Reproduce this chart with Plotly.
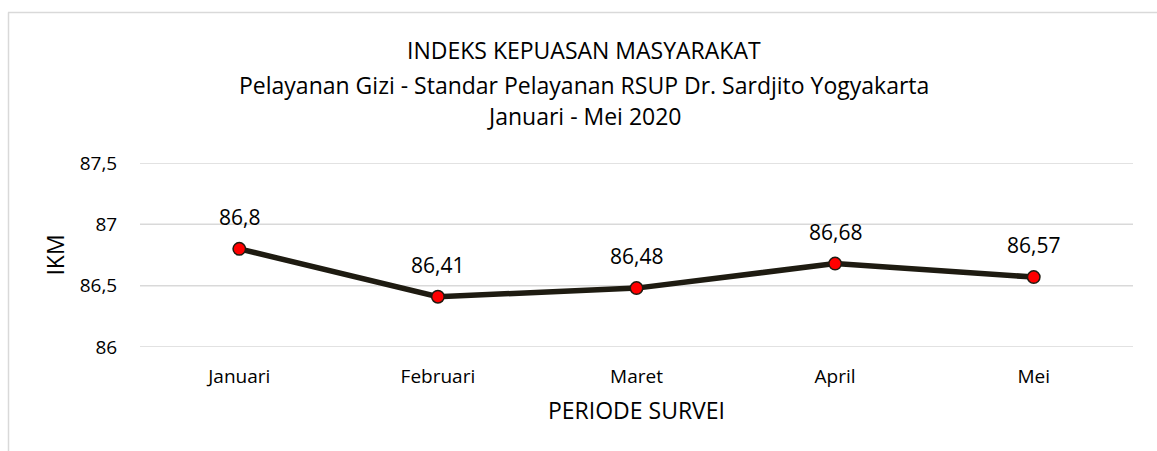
import plotly.graph_objects as go

months = ["Januari", "Februari", "Maret", "April", "Mei"]
ikm = [86.8, 86.41, 86.48, 86.68, 86.57]
labels = [str(v).replace(".", ",") for v in ikm]
y_ticks = [86, 86.5, 87, 87.5]
title_lines = [
    "INDEKS KEPUASAN MASYARAKAT",
    "Pelayanan Gizi - Standar Pelayanan RSUP Dr. Sardjito Yogyakarta",
    "Januari - Mei 2020",
]

FONT = "Open Sans"
W, H = 1157, 451
L, R, T, B = 140, 24, 163, 104
LINE_COLOR = "#1e1b11"
GRID = "#d9d9d9"
pw = W - L - R
ph = H - T - B

fig = go.Figure()

# horizontal gridlines at the tick values
for v in y_ticks:
    fig.add_shape(type="line", xref="paper", yref="y", x0=0, x1=1, y0=v, y1=v,
                  layer="below", line=dict(color=GRID, width=1.5))

fig.add_trace(go.Scatter(
    x=months, y=ikm, mode="lines+markers",
    line=dict(color=LINE_COLOR, width=5.5),
    marker=dict(size=12.5, color="#ff0000", line=dict(color=LINE_COLOR, width=1.5)),
    cliponaxis=False, showlegend=False, hoverinfo="skip",
))

# data labels
for m, v, t in zip(months, ikm, labels):
    fig.add_annotation(x=m, y=v, text=t, showarrow=False, yshift=32,
                       xanchor="center", yanchor="middle",
                       font=dict(family=FONT, size=21, color="#000000"))

# title lines
title_y = [49.5, 84.5, 115.5]
for t, yy in zip(title_lines, title_y):
    fig.add_annotation(xref="paper", yref="paper", x=(584 - L) / pw,
                       y=1 + (T - yy) / ph, text=t, showarrow=False,
                       xanchor="center", yanchor="middle",
                       font=dict(family=FONT, size=23, color="#000000"))

# chart border (top and left lines)
fig.add_shape(type="line", xref="paper", yref="paper",
              x0=(8 - L) / pw, x1=(W + 5 - L) / pw,
              y0=(H - B - 12.5) / ph, y1=(H - B - 12.5) / ph,
              line=dict(color=GRID, width=1.5))
fig.add_shape(type="line", xref="paper", yref="paper",
              x0=(8.5 - L) / pw, x1=(8.5 - L) / pw,
              y0=(H - B - 12.5) / ph, y1=(-B - 5) / ph,
              line=dict(color=GRID, width=1.5))

fig.update_layout(
    width=W, height=H,
    margin=dict(l=L, r=R, t=T, b=B),
    paper_bgcolor="white", plot_bgcolor="white",
    separators=",.",
    font=dict(family=FONT, color="#000000"),
    xaxis=dict(
        type="category", range=[-0.5, 4.5], showgrid=False, showline=False, zeroline=False,
        ticks="outside", ticklen=12, tickcolor="rgba(0,0,0,0)",
        tickfont=dict(family=FONT, size=19, color="#000000"),
        title=dict(text="PERIODE SURVEI", font=dict(family=FONT, size=23, color="#000000"), standoff=15),
    ),
    yaxis=dict(
        range=[86, 87.5], tickvals=y_ticks, showgrid=False,
        zeroline=False, showline=False, ticks="outside", ticklen=18, tickcolor="rgba(0,0,0,0)",
        tickfont=dict(family=FONT, size=19, color="#000000"),
        title=dict(text="IKM", font=dict(family=FONT, size=23, color="#000000"), standoff=8),
    ),
)

fig.write_html("out.html", config={"displayModeBar": False},
               post_script="document.body.style.margin='0';")
